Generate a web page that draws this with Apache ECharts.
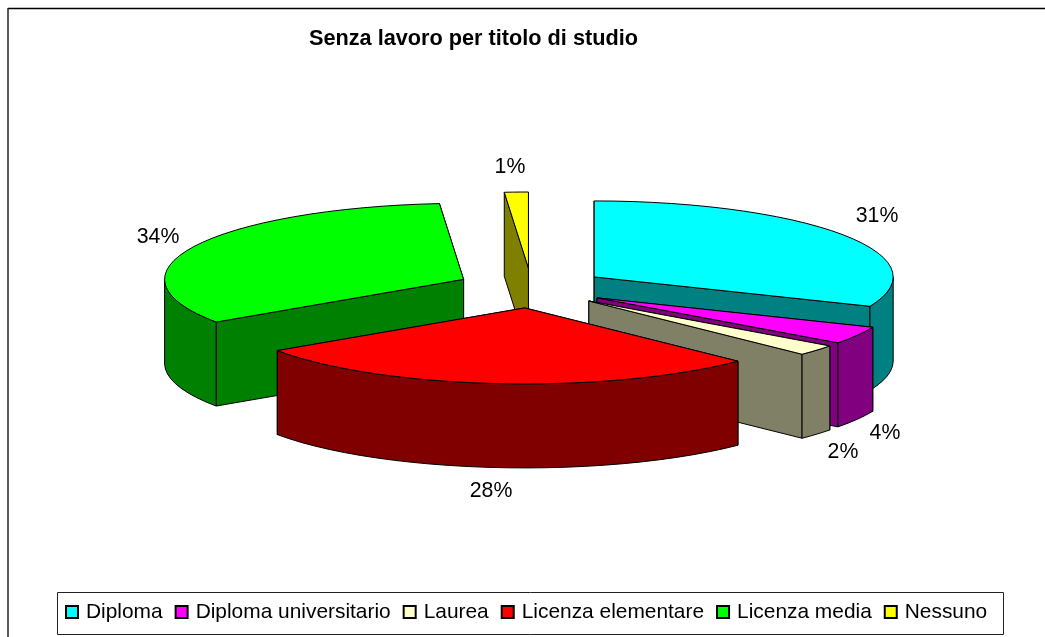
<!DOCTYPE html>
<html><head><meta charset="utf-8">
<style>html,body{margin:0;padding:0;background:#fff}#c{width:1045px;height:637px}</style>
<script src="https://cdn.jsdelivr.net/npm/echarts@6/dist/echarts.min.js"></script>
</head><body><div id="c"></div>
<script>
const categories = ['Diploma','Diploma universitario','Laurea','Licenza elementare','Licenza media','Nessuno'];
const values = [31.6, 3.8, 2.3, 28.4, 33.5, 1.3];
const shownLabels = ['31%','4%','2%','28%','34%','1%'];
const topColors = ['#00FFFF','#FF00FF','#FFFFCC','#FF0000','#00FF00','#FFFF00'];
const wallColors = ['#008080','#800080','#808066','#800000','#008000','#808000'];
const labelSpots = [[877,216],[885,433],[843,452],[491,491],[158,237],[510,167]];
const drawOrder = [5,4,0,1,2,3];

const CX=531.5, CY=288, RX=299, RY=76, DEPTH=84, EXPLODE_X=75.3, EXPLODE_Y=20;
const total = values.reduce((a,b)=>a+b,0);
const spans = []; let acc = 0;
values.forEach(v=>{ const s=acc/total*2*Math.PI; acc+=v; spans.push([s,acc/total*2*Math.PI]); });

function renderSlice(idx){
  const [a0,a1]=spans[idx], mid=(a0+a1)/2;
  const ax=CX+EXPLODE_X*Math.sin(mid), ay=CY-EXPLODE_Y*Math.cos(mid);
  const pt=(a,d)=>[ax+RX*Math.sin(a), ay-RY*Math.cos(a)+(d||0)];
  const line={stroke:'#000',lineWidth:1,lineJoin:'round'};
  const poly=(points,fill)=>({type:'polygon',shape:{points},style:Object.assign({fill},line)});
  const steps=Math.max(3,Math.round((a1-a0)/(2*Math.PI)*96));
  const arc=[]; for(let i=0;i<=steps;i++) arc.push(a0+(a1-a0)*i/steps);
  const wall=a=>poly([[ax,ay],pt(a),pt(a,DEPTH),[ax,ay+DEPTH]],wallColors[idx]);
  const parts=[];
  const startFront=-Math.cos(a0-Math.PI/2)>0, endFront=-Math.cos(a1+Math.PI/2)>0;
  if(!startFront) parts.push(wall(a0));
  if(!endFront) parts.push(wall(a1));
  if(startFront) parts.push(wall(a0));
  if(endFront) parts.push(wall(a1));
  const front=arc.filter(a=>Math.cos(a)<=0.02);
  if(front.length>1){
    parts.push(poly(front.map(a=>pt(a)).concat(front.slice().reverse().map(a=>pt(a,DEPTH))),wallColors[idx]));
  }
  parts.push(poly([[ax,ay]].concat(arc.map(a=>pt(a))),topColors[idx]));
  return {type:'group',children:parts};
}

const series = categories.map((name,i)=>({
  name, type:'custom', coordinateSystem:'none',
  z:2+drawOrder.indexOf(i), silent:true,
  itemStyle:{color:topColors[i],borderColor:'#000',borderWidth:1},
  data:[values[i]],
  renderItem:()=>renderSlice(i)
}));

const chart=echarts.init(document.getElementById('c'),null,{renderer:'canvas'});
chart.setOption({
  animation:false,
  backgroundColor:'#fff',
  title:{text:'Senza lavoro per titolo di studio',left:309,top:27,padding:0,
    textStyle:{fontFamily:'Liberation Sans',fontSize:21.7,fontWeight:'bold',color:'#000',lineHeight:24}},
  legend:{data:categories,left:65,top:600,padding:0,itemGap:12,itemWidth:12,itemHeight:12,
    icon:'rect',selectedMode:false,
    textStyle:{fontFamily:'Liberation Sans',fontSize:20.9,color:'#000',lineHeight:24,padding:[0,0,0,3]}},
  graphic:[
    {type:'line',z:0,shape:{x1:8,y1:8.5,x2:1045,y2:8.5},style:{stroke:'#000',lineWidth:1.5}},
    {type:'line',z:0,shape:{x1:8,y1:8,x2:8,y2:637},style:{stroke:'#222',lineWidth:1.5}},
    {type:'rect',z:0,shape:{x:57.5,y:592.5,width:946,height:42},style:{fill:'#fff',stroke:'#222',lineWidth:1}}
  ].concat(shownLabels.map((t,i)=>({type:'text',z:20,x:labelSpots[i][0],y:labelSpots[i][1],
    style:{text:t,fill:'#000',font:'21.3px "Liberation Sans"',align:'center',verticalAlign:'middle'}}))),
  series
});
</script></body></html>
